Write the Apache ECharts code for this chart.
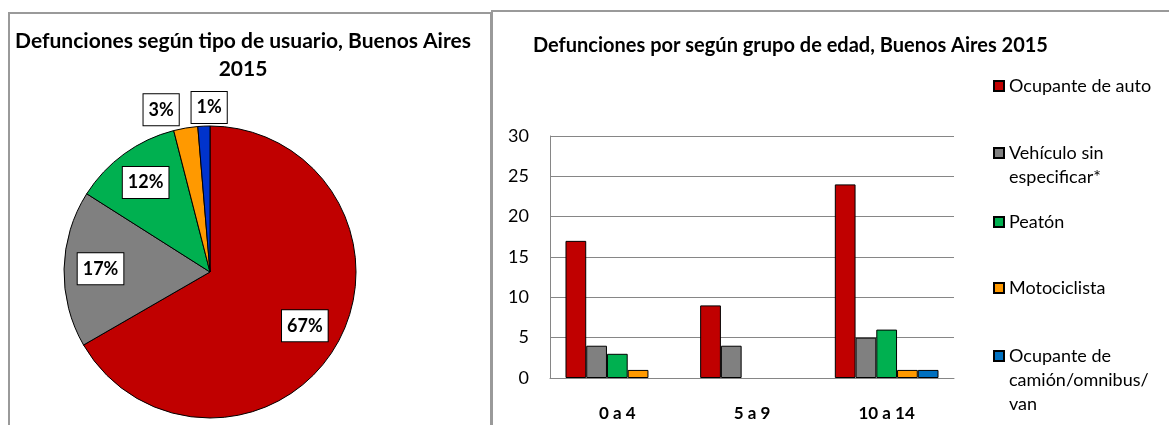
<!DOCTYPE html>
<html>
<head>
<meta charset="utf-8">
<script src="https://cdn.jsdelivr.net/npm/echarts@6/dist/echarts.min.js"></script>
<style>
html,body{margin:0;padding:0;background:#fff;}
#chart{width:1169px;height:425px;}
</style>
</head>
<body>
<div id="chart"></div>
<script>
// ---- Data ----
const categories = ['0 a 4', '5 a 9', '10 a 14'];
const seriesNames = ['Ocupante de auto', 'Vehículo sin especificar*', 'Peatón', 'Motociclista', 'Ocupante de camión/omnibus/van'];
const ocupanteAuto = [17, 9, 24];
const vehiculoSinEspecificar = [4, 4, 5];
const peaton = [3, 0, 6];
const motociclista = [1, 0, 1];
const ocupanteCamion = [0, 0, 1];
const pieValues = [50, 13, 9, 2, 1];
const yTicks = [0, 5, 10, 15, 20, 25, 30];
const legendLabels = ['Ocupante de auto', 'Vehículo sin\nespecificar*', 'Peatón', 'Motociclista', 'Ocupante de\ncamión/omnibus/\nvan'];

// ---- Styling ----
const barColors = ['#C00000', '#808080', '#00B050', '#FF9900', '#0070C0'];
const pieColors = ['#C00000', '#808080', '#00B050', '#FF9900', '#0033CC'];
const FONT = 'Lato';
const pieCenter = [210, 272];
const pieRadius = 146;

const barData = [ocupanteAuto, vehiculoSinEspecificar, peaton, motociclista, ocupanteCamion];

const barSeries = seriesNames.map((name, i) => ({
  name: name,
  type: 'bar',
  xAxisIndex: 0,
  yAxisIndex: 0,
  barGap: '0%',
  barCategoryGap: '23%',
  itemStyle: { color: barColors[i], borderColor: '#000', borderWidth: 1 },
  data: barData[i].map(v => v === 0 ? { value: v, itemStyle: { borderWidth: 0 } } : v)
}));

// Legend: icon aligned with the first text line (blank lines prepended so the
// first real line sits at the icon's vertical centre).
const legendIconY = [86, 153, 222, 288, 356];
const LH = 24;
const legends = seriesNames.map((name, i) => {
  const lines = legendLabels[i].split('\n');
  const n = lines.length;
  const blanks = new Array(n - 1).fill(' ');
  const txt = blanks.concat(lines).join('\n');
  return {
    orient: 'vertical',
    left: 993,
    top: legendIconY[i] - (2 * n - 1) * LH / 2,
    padding: 0,
    itemWidth: 10,
    itemHeight: 10,
    icon: 'rect',
    selectedMode: false,
    data: [name],
    formatter: () => txt,
    textStyle: { fontFamily: FONT, fontSize: 18, color: '#000', lineHeight: LH }
  };
});

const option = {
  backgroundColor: '#fff',
  animation: false,
  textStyle: { fontFamily: FONT },
  title: [
    {
      text: 'Defunciones según tipo de usuario, Buenos Aires\n2015',
      left: 243, top: 27, textAlign: 'center', padding: 0,
      textStyle: { fontFamily: FONT, fontWeight: 'bold', fontSize: 21, color: '#000', lineHeight: 28 }
    },
    {
      text: 'Defunciones por según grupo de edad, Buenos Aires 2015',
      left: 533, top: 33, padding: 0,
      textStyle: { fontFamily: FONT, fontWeight: 'bold', fontSize: 20, color: '#000', lineHeight: 26 }
    }
  ],
  legend: legends,
  graphic: [
    { type: 'rect', shape: { x: 9, y: 13, width: 482, height: 430 }, style: { fill: 'none', stroke: '#9a9a9a', lineWidth: 2 }, silent: true, z: -1 },
    { type: 'rect', shape: { x: 492, y: 11, width: 700, height: 430 }, style: { fill: 'none', stroke: '#9a9a9a', lineWidth: 2 }, silent: true, z: -1 }
  ],
  grid: { left: 550, right: 215, top: 136, bottom: 47, containLabel: false },
  xAxis: {
    type: 'category',
    data: categories,
    axisLine: { show: true, lineStyle: { color: '#868686', width: 1 } },
    axisTick: { show: false },
    axisLabel: { margin: 27, fontFamily: FONT, fontWeight: 'bold', fontSize: 17, color: '#000' }
  },
  yAxis: {
    type: 'value',
    min: yTicks[0],
    max: yTicks[yTicks.length - 1],
    interval: yTicks[1] - yTicks[0],
    axisLine: { show: true, lineStyle: { color: '#868686', width: 1 } },
    axisTick: { show: false },
    splitLine: { show: true, lineStyle: { color: '#868686', width: 1 } },
    axisLabel: { margin: 21, fontFamily: FONT, fontSize: 18, color: '#000' }
  },
  series: [
    {
      type: 'pie',
      name: 'pie',
      center: pieCenter,
      radius: [0, pieRadius],
      startAngle: 90,
      clockwise: true,
      legendHoverLink: false,
      data: seriesNames.map((name, i) => ({ name: 'p' + i, value: pieValues[i], itemStyle: { color: pieColors[i] } })),
      itemStyle: { borderColor: '#000', borderWidth: 1 },
      label: {
        show: true,
        position: 'inside',
        formatter: p => Math.round(p.percent) + '%',
        fontFamily: FONT, fontSize: 18, fontWeight: 'bold', color: '#000',
        backgroundColor: '#fff', borderColor: '#000', borderWidth: 1,
        padding: [7, 5, 6, 5]
      },
      labelLine: { show: false },
      labelLayout: function (p) {
        const r = p.labelRect;
        const lx = r.x + r.width / 2, ly = r.y + r.height / 2;
        const vx = lx - pieCenter[0], vy = ly - pieCenter[1];
        const d = Math.sqrt(vx * vx + vy * vy) || 1;
        const R = p.dataIndex < 3 ? pieRadius * 0.75 : pieRadius * 1.12;
        let dx = vx / d * R - vx;
        const dy = vy / d * R - vy - 1;
        if (p.dataIndex === 3) dx -= r.width / 2 + 3;
        if (p.dataIndex === 4) dx += 6;
        return { dx: dx, dy: dy };
      }
    }
  ].concat(barSeries)
};

const chart = echarts.init(document.getElementById('chart'), null, { renderer: 'canvas' });
chart.setOption(option);
</script>
</body>
</html>
